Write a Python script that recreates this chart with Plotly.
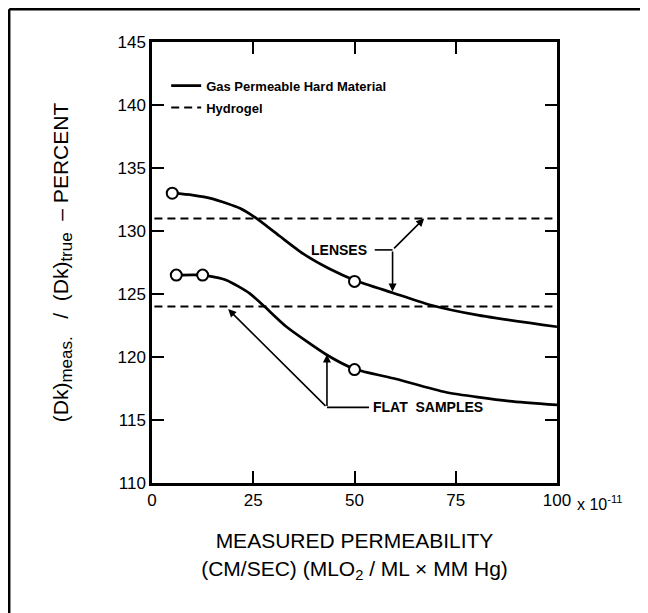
import plotly.graph_objects as go

# ---- data ----
lens_curve_x = [5, 10, 15, 21.7, 25.8, 31.5, 37.3, 43.8, 50, 59.4, 68.5, 80.8, 100]
lens_curve_y = [133, 132.85, 132.55, 131.8, 131.0, 129.6, 128.2, 127.0, 126.1, 125.1, 124.15, 123.3, 122.4]
lens_pts_x = [5, 50]
lens_pts_y = [133, 126]

flat_curve_x = [6, 12.5, 18.4, 24.1, 27.8, 33.2, 43, 50, 60.3, 72.6, 88.2, 100]
flat_curve_y = [126.5, 126.5, 126.1, 125.05, 124, 122.4, 120.2, 119.05, 118.25, 117.2, 116.5, 116.2]
flat_pts_x = [6, 12.5, 50]
flat_pts_y = [126.5, 126.5, 119]

hydrogel_x = [0.6, 100]
hydrogel_lens = 131
hydrogel_flat = 124

x_ticks = [0, 25, 50, 75, 100]
x_ticktext = ["0", "25", "50", "75", "100"]
y_ticks = [110, 115, 120, 125, 130, 135, 140, 145]

FONT = "Liberation Sans"
BLACK = "#000000"

fig = go.Figure()

# hydrogel dashed lines
fig.add_trace(go.Scatter(x=hydrogel_x, y=[hydrogel_lens] * 2, mode="lines",
                         line=dict(color=BLACK, width=2, dash="8px,5px"),
                         name="<b>Hydrogel</b>", legendgroup="b", legendrank=2,
                         hoverinfo="skip"))
fig.add_trace(go.Scatter(x=hydrogel_x, y=[hydrogel_flat] * 2, mode="lines",
                         line=dict(color=BLACK, width=2, dash="8px,5px"),
                         showlegend=False, hoverinfo="skip"))

# gas permeable hard material curves
fig.add_trace(go.Scatter(x=lens_curve_x, y=lens_curve_y, mode="lines",
                         line=dict(color=BLACK, width=2.7, shape="spline", smoothing=0.6),
                         name="<b>Gas Permeable Hard Material</b>", legendgroup="a",
                         legendrank=1))
fig.add_trace(go.Scatter(x=flat_curve_x, y=flat_curve_y, mode="lines",
                         line=dict(color=BLACK, width=2.7, shape="spline", smoothing=0.6),
                         showlegend=False))

# measured points (open circles)
for px, py in [(lens_pts_x, lens_pts_y), (flat_pts_x, flat_pts_y)]:
    fig.add_trace(go.Scatter(x=px, y=py, mode="markers",
                             marker=dict(symbol="circle", size=11, color="white",
                                         line=dict(color=BLACK, width=2)),
                             showlegend=False))

arrow_style = dict(showarrow=True, arrowhead=2, arrowsize=1, arrowwidth=1.6,
                   arrowcolor=BLACK, axref="x", ayref="y", standoff=0, text="")

annotations = [
    # LENSES label and arrows
    dict(x=46.2, y=128.5, xref="x", yref="y", text="<b>LENSES</b>", showarrow=False,
         font=dict(family=FONT, size=14, color=BLACK)),
    dict(x=67.2, y=131.0, ax=59.4, ay=128.5, xref="x", yref="y", **arrow_style),
    dict(x=59.4, y=125.2, ax=59.4, ay=128.5, xref="x", yref="y", **arrow_style),
    # FLAT SAMPLES label and arrows
    dict(x=54.0, y=116.0, xref="x", yref="y", xanchor="left",
         text="<b>FLAT&nbsp;&nbsp;SAMPLES</b>", showarrow=False,
         font=dict(family=FONT, size=14, color=BLACK)),
    dict(x=43.2, y=120.2, ax=43.2, ay=116.0, xref="x", yref="y", **arrow_style),
    dict(x=18.8, y=123.8, ax=43.2, ay=116.0, xref="x", yref="y", **arrow_style),
    # exponent after 100 tick
    dict(x=1.0, y=0, xref="paper", yref="paper", xanchor="left", yanchor="top",
         xshift=18, yshift=-8, text="x 10<sup>-11</sup>", showarrow=False,
         font=dict(family=FONT, size=16, color=BLACK)),
]

shapes = [
    dict(type="line", xref="x", yref="y", x0=43.2, y0=116.0, x1=53.6, y1=116.0,
         line=dict(color=BLACK, width=1.6)),
    dict(type="line", xref="x", yref="y", x0=55.0, y0=128.5, x1=59.4, y1=128.5,
         line=dict(color=BLACK, width=1.6)),
    # outer frame (top and left edges)
    dict(type="line", xref="paper", yref="paper", x0=-0.3526, y0=1.0744, x1=1.3, y1=1.0744,
         line=dict(color=BLACK, width=2.5)),
    dict(type="line", xref="paper", yref="paper", x0=-0.3526, y0=1.0744, x1=-0.3526, y1=-0.35,
         line=dict(color=BLACK, width=2.5)),
]

fig.update_layout(
    width=648, height=613, autosize=False,
    margin=dict(l=144, r=99, t=34, b=138),
    paper_bgcolor="white", plot_bgcolor="white",
    font=dict(family=FONT, color=BLACK),
    showlegend=True,
    legend=dict(x=0.035, y=0.935, xanchor="left", yanchor="top",
                bgcolor="rgba(0,0,0,0)", itemwidth=30, traceorder="grouped",
                font=dict(family=FONT, size=13, color=BLACK),
                tracegroupgap=2),
    annotations=annotations,
    shapes=shapes,
)

fig.update_xaxes(range=[0, 100], tickvals=x_ticks, ticktext=x_ticktext,
                 ticks="inside", ticklen=12, tickwidth=2, tickcolor=BLACK,
                 showline=True, linewidth=2.5, linecolor=BLACK, mirror="allticks",
                 showgrid=False, zeroline=False,
                 tickfont=dict(family=FONT, size=17, color=BLACK),
                 title=dict(text="MEASURED PERMEABILITY<br>(CM/SEC) (MLO<sub>2</sub> / ML × MM Hg)",
                            font=dict(family=FONT, size=21, color=BLACK), standoff=25))
fig.update_yaxes(range=[110, 145], tickvals=y_ticks,
                 ticks="inside", ticklen=12, tickwidth=2, tickcolor=BLACK,
                 showline=True, linewidth=2.5, linecolor=BLACK, mirror="allticks",
                 showgrid=False, zeroline=False,
                 tickfont=dict(family=FONT, size=17, color=BLACK),
                 title=dict(text="(Dk)<sub><span style='font-size:17px'>meas.</span></sub>"
                                 "&nbsp;&nbsp;&nbsp;/&nbsp;&nbsp;(Dk)<sub><span style='font-size:17px'>true</span></sub>"
                                 "&nbsp;&nbsp;–&nbsp;PERCENT",
                            font=dict(family=FONT, size=21, color=BLACK), standoff=44))

fig.write_html("out.html")
